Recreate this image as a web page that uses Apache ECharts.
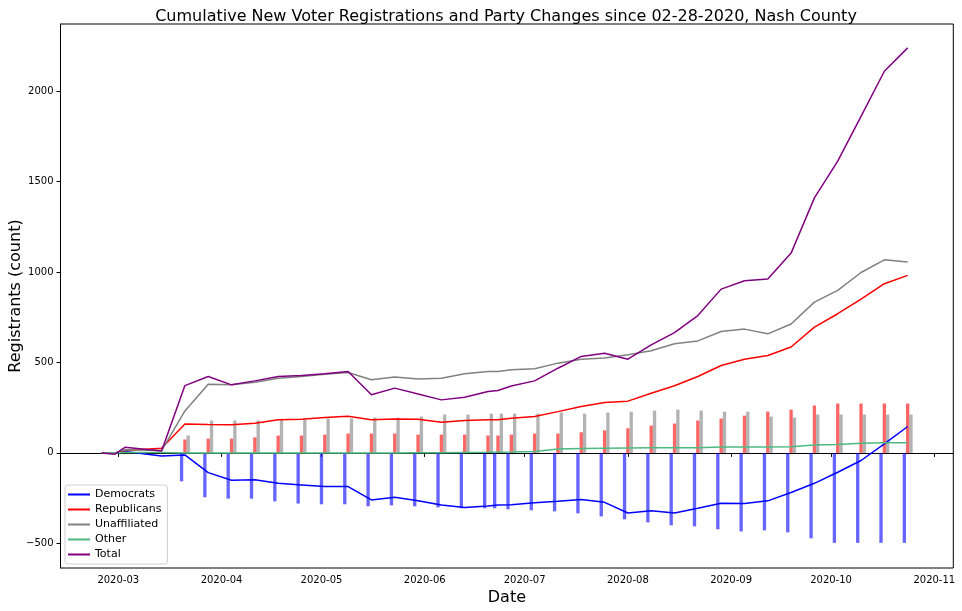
<!DOCTYPE html>
<html>
<head>
<meta charset="utf-8">
<script src="https://cdn.jsdelivr.net/npm/echarts@6/dist/echarts.min.js"></script>
<style>html,body{margin:0;padding:0;background:#fff;}#c{width:962px;height:611px;}</style>
</head>
<body>
<div id="c"></div>
<script>
// ---- data ----
const dates = ['2020-02-25','2020-02-29','2020-03-03','2020-03-14','2020-03-21','2020-03-28','2020-04-04','2020-04-11','2020-04-18','2020-04-25','2020-05-02','2020-05-09','2020-05-16','2020-05-23','2020-05-30','2020-06-06','2020-06-13','2020-06-20','2020-06-23','2020-06-27','2020-07-04','2020-07-11','2020-07-18','2020-07-25','2020-08-01','2020-08-08','2020-08-15','2020-08-22','2020-08-29','2020-09-05','2020-09-12','2020-09-19','2020-09-26','2020-10-03','2020-10-10','2020-10-17','2020-10-24'];
const democrats    = [0,-1,8,-17,-11,-109,-151,-149,-168,-177,-186,-186,-260,-245,-264,-288,-302,-293,-288,-286,-275,-267,-258,-273,-332,-319,-332,-306,-278,-280,-265,-219,-168,-107,-42,50,146];
const republicans  = [0,0,13,26,160,157,155,164,183,186,195,203,183,188,186,170,179,183,183,192,201,228,256,278,286,330,371,422,483,518,538,585,695,769,850,935,981];
const unaffiliated = [0,0,17,13,232,380,376,391,413,422,435,444,404,419,408,413,437,450,450,459,465,496,518,524,542,564,603,619,671,684,658,712,833,898,997,1067,1055];
const other        = [0,0,2,2,0,0,0,0,0,0,0,0,0,0,1,1,2,3,4,5,8,22,24,26,27,28,28,29,33,33,33,34,44,46,53,56,56];
const total        = [0,-7,31,11,372,422,376,398,422,428,437,450,321,358,326,293,308,339,345,370,398,468,533,551,518,597,665,759,905,951,961,1104,1409,1612,1860,2109,2238];
// weekly bars (null = no bar)
const demBars = [null,null,null,null,-157,-245,-253,-253,-268,-280,-284,-284,-295,-290,-295,-301,-306,-306,-306,-312,-317,-323,-334,-351,-367,-384,-400,-406,-422,-434,-428,-439,-472,-497,-497,-497,-497];
const repBars = [null,null,null,null,74,79,79,86,96,96,101,107,107,107,101,101,101,96,96,101,107,107,114,125,136,151,162,179,190,206,228,239,262,273,273,273,273];
const unaBars = [null,null,null,null,96,179,179,179,184,184,190,190,195,195,201,212,212,217,217,217,217,223,217,223,228,234,239,234,228,228,201,195,212,212,212,212,212];
const yTicks = [-500,0,500,1000,1500,2000];
const xTickLabels = ['2020-03','2020-04','2020-05','2020-06','2020-07','2020-08','2020-09','2020-10','2020-11'];

// ---- helpers ----
const DAY = 86400000;
function t(s){const p=s.split('-').map(Number);return Date.UTC(p[0],p[1]-1,p[2]||1);}
const xs = dates.map(t);
function pairs(arr){return xs.map((x,i)=>[x,arr[i]]).filter(d=>d[1]!==null);}
function barRender(offsetDays,color){
  return function(params,api){
    const x=api.value(0), v=api.value(1);
    const a=api.coord([x+(offsetDays-0.5)*DAY,0]);
    const b=api.coord([x+(offsetDays+0.5)*DAY,v]);
    return {type:'rect',shape:{x:a[0],y:Math.min(a[1],b[1]),width:b[0]-a[0],height:Math.abs(b[1]-a[1])},style:{fill:color}};
  };
}
const font='DejaVu Sans';
function lineSeries(name,arr,color){
  return {name:name,type:'line',data:pairs(arr),symbol:'none',z:3,
    lineStyle:{color:color,width:1.5},itemStyle:{color:color},animation:false};
}
const xTickValues = xTickLabels.map(l=>t(l+'-01'));
function fmtMonth(v){const d=new Date(v);const m=d.getUTCMonth()+1;return d.getUTCFullYear()+'-'+(m<10?'0':'')+m;}

const chart = echarts.init(document.getElementById('c'),null,{renderer:'canvas'});
chart.setOption({
  animation:false,
  backgroundColor:'#fff',
  title:{text:'Cumulative New Voter Registrations and Party Changes since 02-28-2020, Nash County',
    left:501,top:4,textAlign:'center',
    textStyle:{fontFamily:font,fontSize:16,fontWeight:'normal',color:'#000'}},
  grid:{left:60.5,top:24,width:892.8,height:544,show:true,borderColor:'#000',borderWidth:1,
    backgroundColor:'transparent',containLabel:false,outerBoundsMode:'none'},
  legend:{data:['Democrats','Republicans','Unaffiliated','Other','Total'],orient:'vertical',
    left:65,top:485,padding:[2,6,2,3],itemWidth:22,itemHeight:2,itemGap:0,icon:'rect',
    borderColor:'#d0d0d0',borderWidth:1,borderRadius:3,backgroundColor:'rgba(255,255,255,0.8)',
    textStyle:{fontFamily:font,fontSize:11,color:'#000',lineHeight:15}},
  xAxis:{type:'value',min:t('2020-03-01')-17.35*DAY,max:t('2020-11-01')+5.7*DAY,
    name:'Date',nameLocation:'middle',nameGap:22,nameMoveOverlap:false,
    nameTextStyle:{fontFamily:font,fontSize:16,color:'#000'},
    axisLine:{show:true,lineStyle:{color:'#000',width:1}},
    axisTick:{show:true,length:4,lineStyle:{color:'#000'},customValues:xTickValues},
    axisLabel:{customValues:xTickValues,formatter:fmtMonth,fontFamily:font,fontSize:10,color:'#000',margin:7},
    splitLine:{show:false}},
  yAxis:{type:'value',min:-636,max:2370,
    name:'Registrants (count)',nameLocation:'middle',nameGap:37,nameMoveOverlap:false,
    nameTextStyle:{fontFamily:font,fontSize:16,color:'#000'},
    axisLine:{show:true,lineStyle:{color:'#000',width:1}},
    axisTick:{show:true,length:4,lineStyle:{color:'#000'},customValues:yTicks},
    axisLabel:{customValues:yTicks,fontFamily:font,fontSize:10,color:'#000',margin:7,
      formatter:function(v){return v<0?'\u2212'+Math.abs(v):String(v);}},
    splitLine:{show:false}},
  series:[
    lineSeries('Democrats',democrats,'#0000ff'),
    lineSeries('Republicans',republicans,'#ff0000'),
    lineSeries('Unaffiliated',unaffiliated,'#808080'),
    lineSeries('Other',other,'#4cba80'),
    lineSeries('Total',total,'#800080'),
    {name:'DemBars',type:'custom',z:1,renderItem:barRender(-1,'rgba(0,0,255,0.6)'),data:pairs(demBars),encode:{x:0,y:1}},
    {name:'RepBars',type:'custom',z:1,renderItem:barRender(0,'rgba(255,0,0,0.6)'),data:pairs(repBars),encode:{x:0,y:1}},
    {name:'UnaBars',type:'custom',z:1,renderItem:barRender(1,'rgba(128,128,128,0.6)'),data:pairs(unaBars),encode:{x:0,y:1}}
  ]
});
</script>
</body>
</html>
